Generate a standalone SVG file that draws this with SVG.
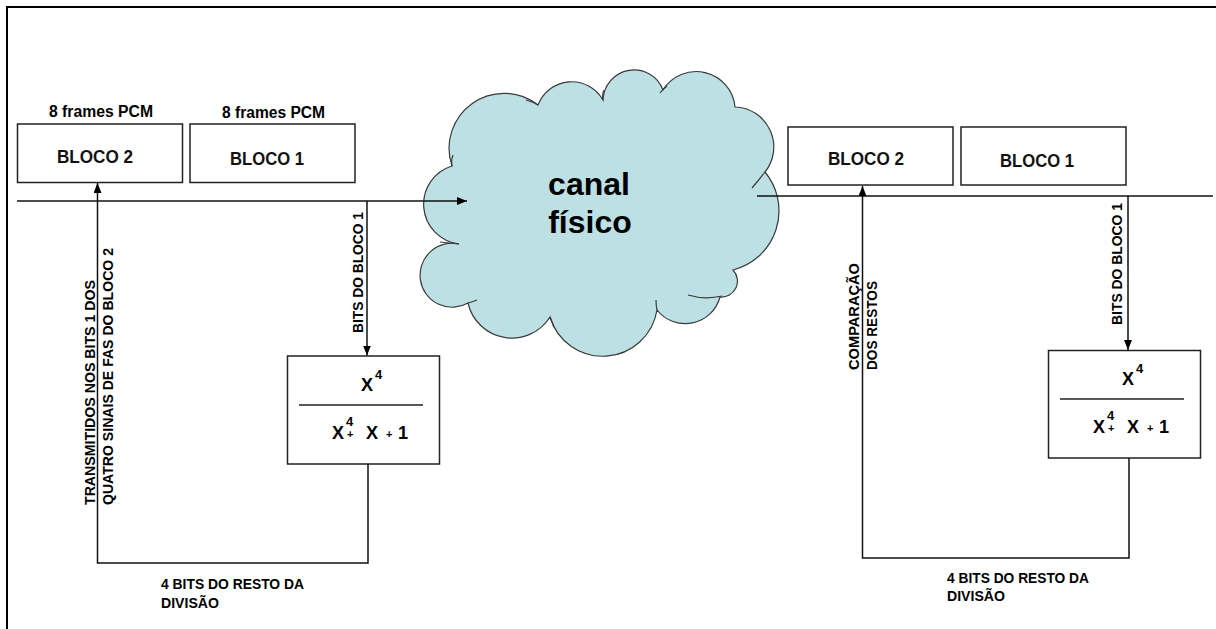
<svg xmlns="http://www.w3.org/2000/svg" width="1216" height="629" viewBox="0 0 1216 629">
<style>
.box{fill:#fff;stroke:#222;stroke-width:1.5}
.ln{fill:none;stroke:#111;stroke-width:1.5}
.t{font-family:"Liberation Sans",Arial,sans-serif;fill:#000}
.b{font-weight:bold}
.lbl{font-family:"Liberation Sans",Arial,sans-serif;font-weight:bold;font-size:15.5px;fill:#000}
.blk{font-family:"Liberation Sans",Arial,sans-serif;font-weight:bold;font-size:19px;fill:#111;text-anchor:middle}
.fr{font-family:"Liberation Sans",Arial,sans-serif;font-weight:bold;font-size:18px;fill:#000}
.sm{font-size:13px}
.pl{font-size:11px}
</style>
<defs>
<marker id="ah" markerUnits="userSpaceOnUse" markerWidth="10" markerHeight="10" refX="10" refY="4" orient="auto">
<path d="M0,0 L10,4 L0,8 z" fill="#000"/>
</marker>
</defs>
<rect width="1216" height="629" fill="#fff"/>
<path d="M7 629 V7 H1216" fill="none" stroke="#000" stroke-width="2"/>

<g id="cloud">
<path d="M459 244 A40 40 0 0 1 452 166 A55 55 0 0 1 538 105 A36 36 0 0 1 603 100 A31 31 0 0 1 663 90 A39 39 0 0 1 735 107 A40 40 0 0 1 765 172 A61 61 0 0 1 733 270 A16 16 0 0 1 720 297 A36 36 0 0 1 657 310 A55 55 0 0 1 550 317 A45 45 0 0 1 468 303 A32 32 0 1 1 459 244 Z" fill="#bce0e3" stroke="#3a3a3a" stroke-width="1.2"/>
<path d="M440 242 Q450 243 459 244 M452 166 Q451 160 453 155 M526 100 Q533 102 538 105 M603 100 Q602 94 604 90 M660 93 Q663 89 667 86 M752 188 Q758 181 765 172 M688 295 Q705 300 722 296 M657 310 Q656 305 656 300 M550 317 Q552 322 554 327 M468 303 Q472 302 477 300" fill="none" stroke="#3a3a3a" stroke-width="1.2"/>
<text class="t b" x="589" y="195" font-size="32" text-anchor="middle">canal</text>
<text class="t b" x="590" y="233" font-size="32" text-anchor="middle">físico</text>
</g>

<g id="left-labels">
<text class="t b" x="101" y="117" font-size="16" text-anchor="middle" textLength="104" lengthAdjust="spacingAndGlyphs">8 frames PCM</text>
<text class="t b" x="273.5" y="118" font-size="16" text-anchor="middle" textLength="103" lengthAdjust="spacingAndGlyphs">8 frames PCM</text>
</g>

<g id="bloco2-left">
<rect class="box" x="17.5" y="124" width="165" height="58.5"/>
<text class="blk" x="95" y="163" textLength="76" lengthAdjust="spacingAndGlyphs">BLOCO 2</text>
</g>
<g id="bloco1-left">
<rect class="box" x="190" y="124" width="165" height="58.5"/>
<text class="blk" x="267" y="165" textLength="74" lengthAdjust="spacingAndGlyphs">BLOCO 1</text>
</g>

<g id="div-left">
<rect class="box" x="287.5" y="356" width="152" height="108"/>
<line x1="299" y1="405" x2="423" y2="405" stroke="#222" stroke-width="1.5"/>
<text class="fr" x="361" y="391">X<tspan class="sm" x="375" y="379">4</tspan></text>
<text class="fr" x="332" y="439">X<tspan class="sm" x="346" y="426">4</tspan><tspan class="pl" x="347" y="438">+</tspan><tspan x="366" y="439">X</tspan><tspan class="pl" x="386" y="438">+</tspan><tspan x="398" y="439">1</tspan></text>
</g>

<g id="bloco2-right">
<rect class="box" x="788" y="127" width="165" height="58"/>
<text class="blk" x="866" y="165" textLength="76" lengthAdjust="spacingAndGlyphs">BLOCO 2</text>
</g>
<g id="bloco1-right">
<rect class="box" x="961" y="127" width="165" height="58"/>
<text class="blk" x="1037" y="167" textLength="74" lengthAdjust="spacingAndGlyphs">BLOCO 1</text>
</g>

<g id="div-right">
<rect class="box" x="1048.5" y="350.5" width="152" height="107.5"/>
<line x1="1060" y1="399" x2="1184" y2="399" stroke="#222" stroke-width="1.5"/>
<text class="fr" x="1122" y="385">X<tspan class="sm" x="1136" y="373">4</tspan></text>
<text class="fr" x="1093" y="433">X<tspan class="sm" x="1107" y="420">4</tspan><tspan class="pl" x="1108" y="432">+</tspan><tspan x="1127" y="433">X</tspan><tspan class="pl" x="1147" y="432">+</tspan><tspan x="1159" y="433">1</tspan></text>
</g>

<g id="connectors">
<line class="ln" x1="17" y1="201" x2="467" y2="201" marker-end="url(#ah)"/>
<line class="ln" x1="367" y1="201" x2="367" y2="355.5" marker-end="url(#ah)"/>
<path class="ln" d="M368 464 V563 H97.5 V183" marker-end="url(#ah)"/>
<line class="ln" x1="757" y1="196" x2="1213" y2="196" stroke="#444"/>
<line class="ln" x1="1128" y1="196" x2="1128" y2="350" marker-end="url(#ah)"/>
<path class="ln" d="M1129 458 V558 H862.5 V186" marker-end="url(#ah)"/>
</g>

<g id="edge-labels">
<text class="lbl" transform="translate(95 505) rotate(-90)" textLength="225" lengthAdjust="spacingAndGlyphs">TRANSMITIDOS NOS BITS 1 DOS</text>
<text class="lbl" transform="translate(113 505) rotate(-90)" textLength="257" lengthAdjust="spacingAndGlyphs">QUATRO SINAIS DE FAS DO BLOCO 2</text>
<text class="lbl" transform="translate(363 333) rotate(-90)" textLength="121" lengthAdjust="spacingAndGlyphs">BITS DO BLOCO 1</text>
<text class="lbl" x="161" y="589" textLength="143" lengthAdjust="spacingAndGlyphs">4 BITS DO RESTO DA</text>
<text class="lbl" x="161" y="608" textLength="58" lengthAdjust="spacingAndGlyphs">DIVISÃO</text>
<text class="lbl" transform="translate(859 370) rotate(-90)" textLength="107" lengthAdjust="spacingAndGlyphs">COMPARAÇÃO</text>
<text class="lbl" transform="translate(877 370) rotate(-90)" textLength="89" lengthAdjust="spacingAndGlyphs">DOS RESTOS</text>
<text class="lbl" transform="translate(1122 325) rotate(-90)" textLength="122" lengthAdjust="spacingAndGlyphs">BITS DO BLOCO 1</text>
<text class="lbl" x="947" y="583" textLength="142" lengthAdjust="spacingAndGlyphs">4 BITS DO RESTO DA</text>
<text class="lbl" x="947" y="601" textLength="58" lengthAdjust="spacingAndGlyphs">DIVISÃO</text>
</g>
</svg>
